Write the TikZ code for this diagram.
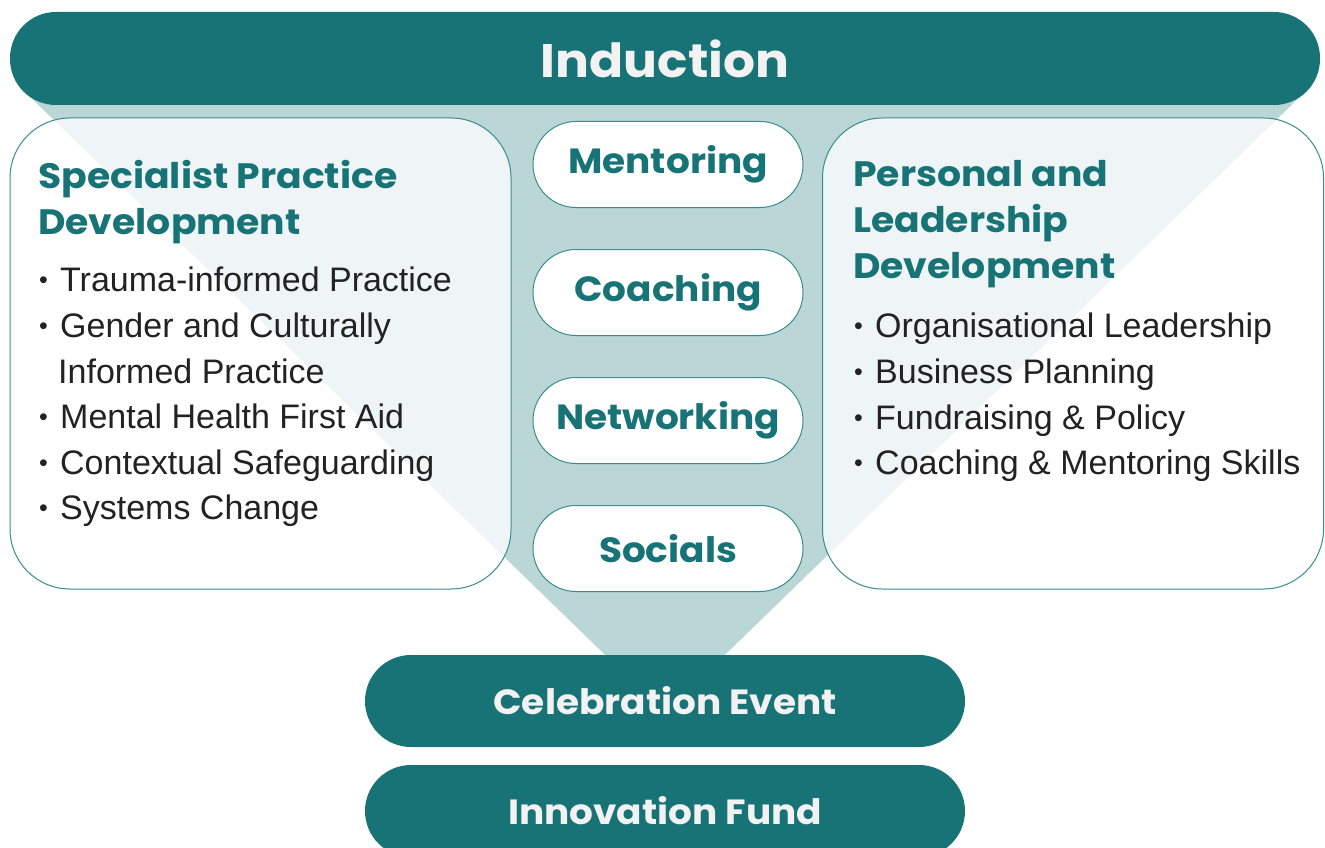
\documentclass[tikz,border=0pt]{standalone}
\usepackage{fontspec}
\setmainfont{Liberation Sans}
\newfontfamily\headfont{Poppins}[FakeStretch=1.07]
\usepackage{tikz}
\usetikzlibrary{positioning}

\definecolor{tealdark}{HTML}{177376}
\definecolor{teallight}{HTML}{BAD6D7}
\definecolor{tealline}{HTML}{3A8C8E}
\definecolor{bodytext}{HTML}{222222}

% small raised bullet, text starts 22pt after it
\newcommand{\blt}{\makebox[22pt][l]{\hspace{1pt}\raisebox{3pt}{\fontsize{25}{25}\selectfont\textbullet}}}

\tikzset{
    band/.style={rectangle, fill=tealdark, text=white!95!black,
        rounded corners=46pt, inner sep=0pt,
        font=\headfont\bfseries\fontsize{35}{40}\selectfont},
    panel/.style={rectangle, draw=tealline, line width=1pt, fill=white,
        fill opacity=0.78, rounded corners=60pt,
        minimum width=501pt, minimum height=471pt},
    pill/.style={rectangle, draw=tealline, line width=1pt, fill=white,
        rounded corners=43pt, minimum width=270pt, minimum height=86pt,
        text=tealdark, font=\headfont\bfseries\fontsize{35}{40}\selectfont},
    heading/.style={anchor=north west, inner sep=0pt, align=left, text=tealdark,
        font=\headfont\bfseries\fontsize{35.3}{46}\selectfont},
    items/.style={anchor=north west, inner sep=0pt, align=left, text=bodytext,
        font=\fontsize{34}{45.6}\selectfont}
}

\begin{document}
\begin{tikzpicture}[x=1pt, y=-1pt, node distance=41pt]

    \useasboundingbox (0,0) rectangle (1325,848);

    % funnel behind everything
    \fill[teallight] (23,90) -- (1307,90) -- (665,713) -- cycle;

    \node[band, minimum width=1310pt, minimum height=93pt,
        font=\headfont\bfseries\fontsize{47}{50}\selectfont] (induct) at (665,58.5) {Induction};

    \node[panel] (spd) at (260.5,353.5) {};
    \node[panel] (pld) at (1073,353.5) {};

    \node[pill] (ment) at (668,164.5) {Mentoring};
    \node[pill, below=of ment] (coach) {Coaching};
    \node[pill, below=of coach] (netw) {Networking};
    \node[pill, below=of netw] (soc) {Socials};

    \node[band, minimum width=600pt, minimum height=92pt] (celeb) at (665,701) {Celebration Event};
    \node[band, minimum width=600pt, minimum height=92pt] (fund) at (665,811) {Innovation Fund};

    % panel texts
    \node[heading] (spdhead) at (38,160.5) {Specialist Practice\\Development};
    \node[items] (spdlist) at (38,267) {%
        \blt Trauma-informed Practice\\
        \blt Gender and Culturally\\
        \hspace{20pt}Informed Practice\\
        \blt Mental Health First Aid\\
        \blt Contextual Safeguarding\\
        \blt Systems Change};

    \node[heading] (pldhead) at (853,160.5) {Personal and\\Leadership\\Development};
    \node[items] (pldlist) at (853,313) {%
        \blt Organisational Leadership\\
        \blt Business Planning\\
        \blt Fundraising \& Policy\\
        \blt Coaching \& Mentoring Skills};

\end{tikzpicture}
\end{document}
